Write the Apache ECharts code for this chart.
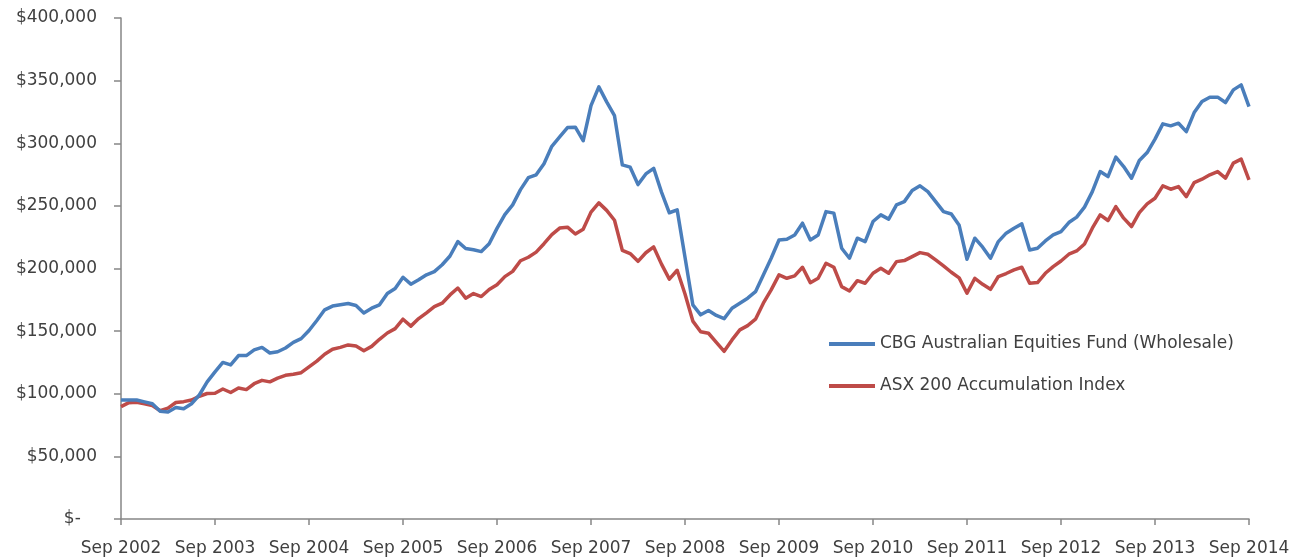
<!DOCTYPE html>
<html>
<head>
<meta charset="utf-8">
<script src="https://cdn.jsdelivr.net/npm/echarts@6/dist/echarts.min.js"></script>
<style>
html,body{margin:0;padding:0;background:#fff;}
#chart{width:1306px;height:559px;}
</style>
</head>
<body>
<div id="chart"></div>
<script>
// Monthly values, Sep 2002 .. Sep 2014 (145 months)
const startYear = 2002;
const startMonth = 8; // September (0-based)
const monthNames = ['Jan','Feb','Mar','Apr','May','Jun','Jul','Aug','Sep','Oct','Nov','Dec'];

const seriesNames = ['CBG Australian Equities Fund (Wholesale)', 'ASX 200 Accumulation Index'];

const fundValues = [
  95000, 95000, 95000, 93500, 92000, 86000, 85500, 89000, 88000, 92000, 99000, 109500,
  117500, 125000, 123000, 130500, 130500, 135000, 137000, 132500, 133500, 136500, 141000, 144000,
  150500, 158500, 167000, 170000, 171000, 172000, 170500, 164500, 168300, 171000, 180000, 184000,
  193000, 187500, 191000, 195000, 197500, 203000, 210000, 221500, 216000, 215000, 213500, 219800,
  232000, 243000, 250800, 263000, 272500, 274800, 283700, 297600, 305000, 312500, 312800, 302000,
  330000, 345000, 333000, 322000, 282700, 280900, 267000, 275500, 280000, 261000, 244500, 246800,
  209000, 171000, 163000, 166500, 162500, 160000, 168300, 172300, 176300, 181500, 194900, 208200,
  222800, 223400, 226800, 236200, 222800, 226800, 245400, 244200, 216200, 208200, 224200, 221500,
  237500, 242800, 239400, 250800, 253400, 262200, 266000, 261400, 253400, 245400, 243500, 234500,
  207400, 224200, 217000, 208200, 221500, 228200, 232200, 235600, 214800, 216200, 222000, 226800,
  229500, 236700, 241000, 249000, 261400, 277400, 273400, 288900, 281400, 272100, 286200, 292600,
  303300, 315500, 313900, 316000, 309300, 324500, 333300, 336800, 336800, 332500, 342600, 346600,
  329300
];

const indexValues = [
  89700, 92900, 93200, 92000, 90500, 86500, 88500, 93000, 93700, 95000, 98000, 100200,
  100400, 103800, 101000, 104600, 103300, 108000, 110700, 109500, 112500, 114700, 115600, 116800,
  121400, 126000, 131500, 135500, 137000, 139000, 138100, 134400, 137800, 143500, 148500, 152000,
  159500, 154000, 160000, 164600, 169500, 172300, 178900, 184400, 176300, 180000, 177600, 183200,
  187000, 193500, 197700, 206200, 209000, 213100, 219800, 227000, 232300, 233000, 227500, 231400,
  245000, 252400, 246400, 238500, 214500, 211900, 205700, 212600, 217200, 203500, 191500, 198600,
  179600, 158000, 149500, 148300, 141000, 133900, 143000, 151000, 154400, 159500, 172300, 182900,
  194900, 192200, 194100, 201000, 188700, 192200, 204200, 201000, 185500, 182100, 190300, 188200,
  196200, 200200, 196200, 205500, 206300, 209500, 212700, 211400, 206900, 202100, 197000, 192500,
  180300, 192200, 187400, 183400, 193600, 196000, 198900, 201000, 188200, 188800, 196200, 201500,
  206000, 211400, 214000, 219600, 232200, 242800, 238300, 249400, 240200, 233500, 244600, 251600,
  256100, 266000, 263300, 265400, 257400, 268600, 271300, 274800, 277400, 272100, 284100, 287300,
  270800
];

const yTicks = [0, 50000, 100000, 150000, 200000, 250000, 300000, 350000, 400000];

// month category labels
const categories = [];
for (let i = 0; i < fundValues.length; i++) {
  const m = (startMonth + i) % 12;
  const y = startYear + Math.floor((startMonth + i) / 12);
  categories.push(monthNames[m] + ' ' + y);
}

const FONT = 'DejaVu Sans';
const TXT = '#404040';
const AX = '#868686';

function fmtMoney(v) {
  if (v === 0) return '$-   ';
  return '$' + v.toString().replace(/\B(?=(\d{3})+(?!\d))/g, ',');
}
const isSep = (idx, val) => val.indexOf('Sep') === 0;

const chart = echarts.init(document.getElementById('chart'), null, {renderer: 'canvas'});
chart.setOption({
  animation: false,
  backgroundColor: '#ffffff',
  grid: {left: 121, right: 57, top: 18, bottom: 40, containLabel: false},
  legend: {
    orient: 'vertical',
    left: 824,
    top: 329,
    icon: 'rect',
    itemWidth: 46,
    itemHeight: 4,
    itemGap: 22,
    textStyle: {fontFamily: FONT, fontSize: 17, color: TXT, lineHeight: 20},
    data: seriesNames
  },
  xAxis: {
    type: 'category',
    boundaryGap: false,
    data: categories,
    axisLine: {show: true, lineStyle: {color: AX, width: 1.5}},
    axisTick: {show: true, interval: isSep, length: 6, lineStyle: {color: AX, width: 1.5}},
    axisLabel: {interval: isSep, margin: 21, fontFamily: FONT, fontSize: 17, color: TXT},
    splitLine: {show: false}
  },
  yAxis: {
    type: 'value',
    min: yTicks[0],
    max: yTicks[yTicks.length - 1],
    interval: yTicks[1] - yTicks[0],
    axisLine: {show: true, lineStyle: {color: AX, width: 1.5}},
    axisTick: {show: true, length: 7, lineStyle: {color: AX, width: 1.5}},
    axisLabel: {margin: 24, fontFamily: FONT, fontSize: 17, color: TXT, formatter: fmtMoney},
    splitLine: {show: false}
  },
  series: [
    {
      name: seriesNames[0],
      type: 'line',
      data: fundValues,
      showSymbol: false,
      symbol: 'none',
      lineStyle: {color: '#4A7EBB', width: 3.5, join: 'round'},
      itemStyle: {color: '#4A7EBB'},
      z: 3
    },
    {
      name: seriesNames[1],
      type: 'line',
      data: indexValues,
      showSymbol: false,
      symbol: 'none',
      lineStyle: {color: '#BE4B48', width: 3.5, join: 'round'},
      itemStyle: {color: '#BE4B48'},
      z: 2
    }
  ]
});
</script>
</body>
</html>
